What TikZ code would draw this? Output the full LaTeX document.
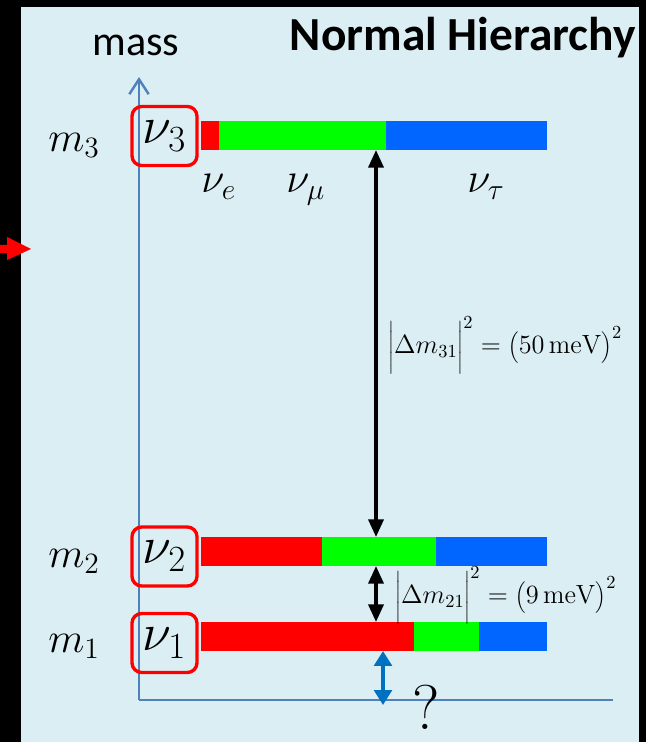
\documentclass[tikz,border=0pt]{standalone}
\usepackage{fix-cm}
\usepackage[no-math]{fontspec}
\newfontfamily\calibri{Carlito}
\usetikzlibrary{arrows.meta}
\definecolor{panelblue}{RGB}{219,238,243}
\definecolor{axisblue}{RGB}{79,129,189}
\definecolor{nuered}{RGB}{255,0,0}
\definecolor{numugreen}{RGB}{0,255,0}
\definecolor{nutaublue}{RGB}{0,102,255}
\definecolor{gapblue}{RGB}{0,112,192}
\newcommand{\tallfence}{\vphantom{\rule[-10pt]{0pt}{23pt}}}
\newcommand{\midfence}{\vphantom{\rule[-5pt]{0pt}{17pt}}}

\begin{document}
\begin{tikzpicture}[
    x=0.02cm, y=-0.02cm,
    statebox/.style={draw=nuered, line width=1.9pt, rounded corners=5.5pt, minimum width=1.3cm, minimum height=1.18cm, inner sep=0pt, font=\fontsize{30}{30}\selectfont},
    masslabel/.style={anchor=base west, inner sep=0pt, font=\fontsize{24}{24}\selectfont},
    flavlabel/.style={anchor=base west, inner sep=0pt, font=\fontsize{24}{24}\selectfont},
    splitlabel/.style={anchor=west, inner sep=0pt, font=\fontsize{15}{15}\selectfont},
    gaparrow/.style={line width=2pt, <->, >={Triangle[length=10pt,width=8.5pt]}},
    lowarrow/.style={gapblue, line width=2.6pt, <->, >={Triangle[length=8.5pt,width=10pt]}},
    axisline/.style={axisblue, line width=1.4pt}
  ]
  \useasboundingbox (0,0) rectangle (646,742);
  \fill[black] (0,0) rectangle (646,742);
  \fill[panelblue] (21,7) rectangle (639,742);
  \fill[nuered] (0,245) -- (7,245) -- (7,237) -- (31,249) -- (7,260) -- (7,253) -- (0,253) -- cycle;

  % Titles
  \node[anchor=base west, inner sep=0pt, font=\calibri\fontsize{24}{24}\selectfont] (masstitle) at (92,56) {mass};
  \node[anchor=base east, inner sep=0pt, font=\calibri\bfseries\fontsize{27}{27}\selectfont] (title) at (636,51) {Normal Hierarchy};

  % Axes
  \coordinate (origin) at (139,700);
  \coordinate (axtop) at (139,77);
  \coordinate (axright) at (613,700);
  \draw[axisline, -{Straight Barb[length=8.5pt,width=11pt]}] (origin) -- (axtop);
  \draw[axisline] (origin) -- (axright);

  % Mass levels
  \foreach \n/\y/\r/\g in {3/135.5/219/386, 2/551.5/322/436, 1/636.5/414/479}{
    \fill[nuered] (201,\y-14.5) rectangle (\r,\y+14.5);
    \fill[numugreen] (\r,\y-14.5) rectangle (\g,\y+14.5);
    \fill[nutaublue] (\g,\y-14.5) rectangle (547,\y+14.5);
    \coordinate (top\n) at (376,\y-14.5);
    \coordinate (bot\n) at (376,\y+14.5);
    \node[masslabel] (m\n) at (48,\y+16) {$m_\n$};
  }
  \node[statebox] (nu3) at (164.5,136) {$\nu_3$};
  \node[statebox] (nu2) at (164.5,556.5) {$\nu_2$};
  \node[statebox] (nu1) at (164.5,643) {$\nu_1$};

  % Flavours
  \node[flavlabel] (nue) at (201,193) {$\nu_e$};
  \node[flavlabel] (numu) at (286,193) {$\nu_\mu$};
  \node[flavlabel] (nutau) at (467,193) {$\nu_\tau$};

  % Splittings
  \coordinate (lowtop) at (383,651);
  \coordinate (lowbot) at (383,705);
  \draw[gaparrow] (bot3) -- (top2);
  \draw[gaparrow] (bot2) -- (top1);
  \draw[lowarrow] (lowtop) -- (lowbot);
  \node[splitlabel] (d31) at (388,345) {$\left|\tallfence\Delta m_{31}\right|^2 = \left(\midfence 50\,\mathrm{meV}\right)^2$};
  \node[splitlabel] (d21) at (395,595) {$\left|\tallfence\Delta m_{21}\right|^2 = \left(\midfence 9\,\mathrm{meV}\right)^2$};
  \node[anchor=base west, inner sep=0pt, font=\fontsize{36}{36}\selectfont] (unknown) at (412,729) {?};
\end{tikzpicture}
\end{document}
